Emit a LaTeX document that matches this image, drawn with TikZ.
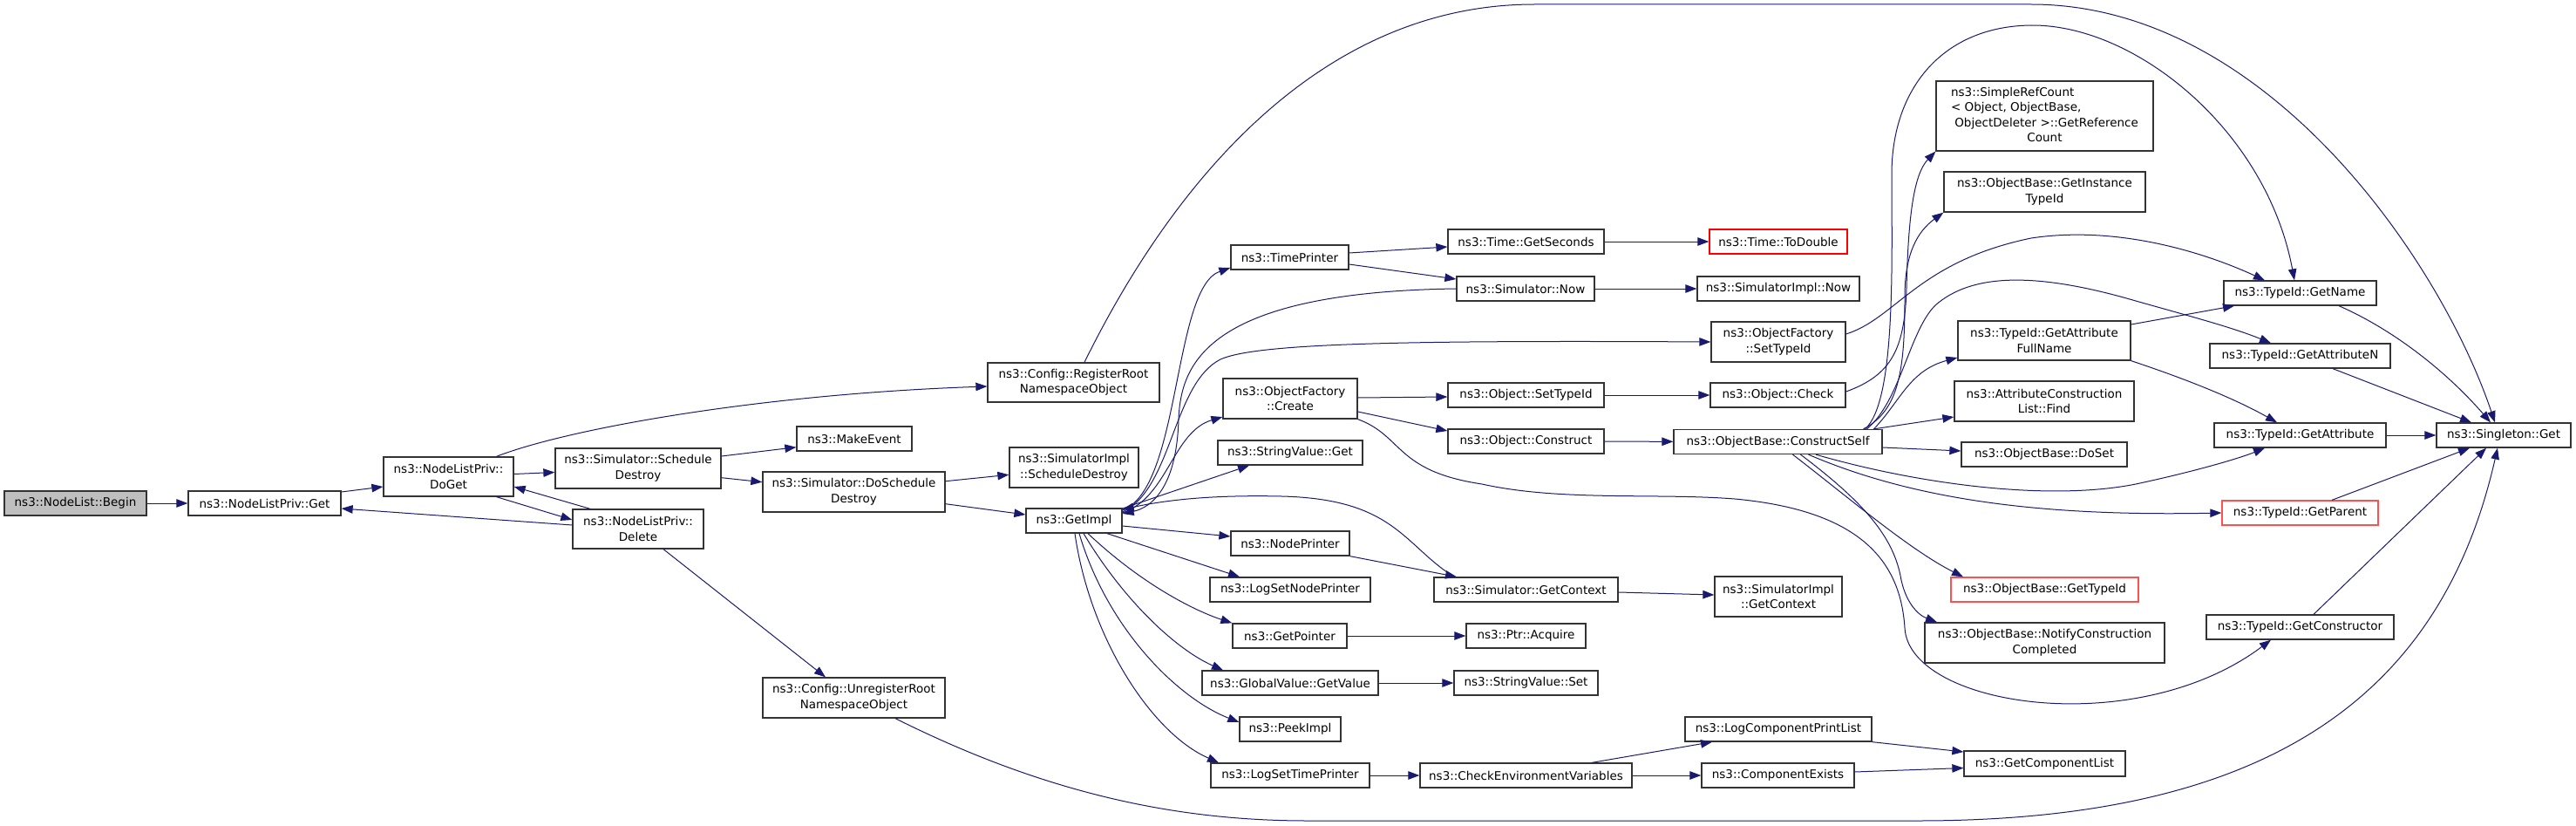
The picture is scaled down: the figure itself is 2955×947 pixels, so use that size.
\documentclass[tikz,border=0pt]{standalone}
\usepackage{fontspec}
\setmainfont{DejaVu Sans}
\usetikzlibrary{arrows.meta}
\definecolor{edgecol}{RGB}{25,25,112}
\definecolor{redbox}{RGB}{255,0,0}
\definecolor{lredbox}{RGB}{255,80,80}
\begin{document}
\begin{tikzpicture}[x=1pt,y=-1pt,
  box/.style={draw=black!80, line width=1.3pt, fill=white, inner sep=0pt, align=center,
    font=\fontsize{13.5}{17.5}\selectfont},
  edge/.style={draw=edgecol, line width=1pt, -{Triangle[length=13pt,width=9.5pt]}}]
\useasboundingbox (0,0) rectangle (2955,947);
% column 1-3
\node[box, minimum width=163pt, minimum height=28pt, fill=black!25] (begin) at (86.5,577) {ns3::NodeList::Begin};
\node[box, minimum width=175pt, minimum height=28pt] (get) at (303.5,577) {ns3::NodeListPriv::Get};
\node[box, minimum width=149pt, minimum height=45pt] (doget) at (514.5,546.5) {ns3::NodeListPriv::\\DoGet};
\node[box, minimum width=190pt, minimum height=46pt] (schedd) at (732,537) {ns3::Simulator::Schedule\\Destroy};
\node[box, minimum width=150pt, minimum height=45pt] (delete) at (732,606.5) {ns3::NodeListPriv::\\Delete};
% column 4
\node[box, minimum width=132pt, minimum height=28pt] (makeevent) at (980,503) {ns3::MakeEvent};
\node[box, minimum width=209pt, minimum height=46pt] (doschedd) at (979.5,564) {ns3::Simulator::DoSchedule\\Destroy};
\node[box, minimum width=209pt, minimum height=46pt] (unreg) at (979.5,800) {ns3::Config::UnregisterRoot\\NamespaceObject};
% column 5
\node[box, minimum width=197pt, minimum height=45pt] (regroot) at (1231.5,438.5) {ns3::Config::RegisterRoot\\NamespaceObject};
\node[box, minimum width=148pt, minimum height=46pt] (implsd) at (1232,536) {ns3::SimulatorImpl\\::ScheduleDestroy};
\node[box, minimum width=110pt, minimum height=28pt] (getimpl) at (1232,597) {ns3::GetImpl};
% column 6
\node[box, minimum width=135pt, minimum height=28pt] (timeprinter) at (1479.5,295) {ns3::TimePrinter};
\node[box, minimum width=154pt, minimum height=46pt] (create) at (1480,457) {ns3::ObjectFactory\\::Create};
\node[box, minimum width=166pt, minimum height=28pt] (strget) at (1480,519) {ns3::StringValue::Get};
\node[box, minimum width=136pt, minimum height=28pt] (nodeprinter) at (1480,623) {ns3::NodePrinter};
\node[box, minimum width=184pt, minimum height=28pt] (lognode) at (1480,676) {ns3::LogSetNodePrinter};
\node[box, minimum width=131pt, minimum height=28pt] (getpointer) at (1479.5,729) {ns3::GetPointer};
\node[box, minimum width=202pt, minimum height=28pt] (globalval) at (1480,783) {ns3::GlobalValue::GetValue};
\node[box, minimum width=116pt, minimum height=28pt] (peekimpl) at (1480,836) {ns3::PeekImpl};
\node[box, minimum width=182pt, minimum height=28pt] (logtime) at (1480,889) {ns3::LogSetTimePrinter};
% column 7
\node[box, minimum width=179pt, minimum height=28pt] (getseconds) at (1750.5,277) {ns3::Time::GetSeconds};
\node[box, minimum width=158pt, minimum height=28pt] (simnow) at (1750,331) {ns3::Simulator::Now};
\node[box, minimum width=179pt, minimum height=28pt] (objsettype) at (1750.5,453) {ns3::Object::SetTypeId};
\node[box, minimum width=179pt, minimum height=28pt] (construct) at (1750.5,506) {ns3::Object::Construct};
\node[box, minimum width=211pt, minimum height=28pt] (getcontext) at (1750.5,676) {ns3::Simulator::GetContext};
\node[box, minimum width=137pt, minimum height=28pt] (acquire) at (1750.5,729) {ns3::Ptr::Acquire};
\node[box, minimum width=165pt, minimum height=28pt] (strset) at (1750.5,783) {ns3::StringValue::Set};
\node[box, minimum width=243pt, minimum height=28pt] (checkenv) at (1750.5,889) {ns3::CheckEnvironmentVariables};
% column 8
\node[box, minimum width=158pt, minimum height=28pt, draw=redbox] (todouble) at (2040,277) {ns3::Time::ToDouble};
\node[box, minimum width=186pt, minimum height=28pt] (implnow) at (2040,331) {ns3::SimulatorImpl::Now};
\node[box, minimum width=154pt, minimum height=46pt] (facsettype) at (2040,392) {ns3::ObjectFactory\\::SetTypeId};
\node[box, minimum width=155pt, minimum height=28pt] (check) at (2039.5,453) {ns3::Object::Check};
\node[box, minimum width=239pt, minimum height=28pt] (constructself) at (2039.5,506.5) {ns3::ObjectBase::ConstructSelf};
\node[box, minimum width=146pt, minimum height=46pt] (implctx) at (2040,684) {ns3::SimulatorImpl\\::GetContext};
\node[box, minimum width=214pt, minimum height=28pt] (logcpl) at (2040,836) {ns3::LogComponentPrintList};
\node[box, minimum width=175pt, minimum height=28pt] (compexists) at (2039.5,889) {ns3::ComponentExists};
% column 9
\node[box, minimum width=249pt, minimum height=80pt] (simpleref) at (2345.5,133) {\begin{tabular}{@{}l@{}}ns3::SimpleRefCount\\< Object, ObjectBase,\\\ ObjectDeleter >::GetReference\\\multicolumn{1}{@{}c@{}}{Count}\end{tabular}};
\node[box, minimum width=231pt, minimum height=46pt] (instancetid) at (2345.5,220) {ns3::ObjectBase::GetInstance\\TypeId};
\node[box, minimum width=198pt, minimum height=45pt] (fullname) at (2345,390.5) {ns3::TypeId::GetAttribute\\FullName};
\node[box, minimum width=206pt, minimum height=46pt] (find) at (2345,460) {ns3::AttributeConstruction\\List::Find};
\node[box, minimum width=190pt, minimum height=28pt] (doset) at (2345,521) {ns3::ObjectBase::DoSet};
\node[box, minimum width=215pt, minimum height=28pt, draw=lredbox] (gettypeid) at (2345.5,676) {ns3::ObjectBase::GetTypeId};
\node[box, minimum width=275pt, minimum height=46pt] (notify) at (2345.5,737) {ns3::ObjectBase::NotifyConstruction\\Completed};
\node[box, minimum width=185pt, minimum height=29pt] (getcomplist) at (2345.5,875.5) {ns3::GetComponentList};
% column 10
\node[box, minimum width=175pt, minimum height=28pt] (getname) at (2638.5,336) {ns3::TypeId::GetName};
\node[box, minimum width=207pt, minimum height=28pt] (getattrn) at (2638.5,408) {ns3::TypeId::GetAttributeN};
\node[box, minimum width=197pt, minimum height=28pt] (getattr) at (2638.5,499) {ns3::TypeId::GetAttribute};
\node[box, minimum width=179pt, minimum height=28pt, draw=lredbox] (getparent) at (2638.5,588) {ns3::TypeId::GetParent};
\node[box, minimum width=215pt, minimum height=28pt] (getctor) at (2638.5,719) {ns3::TypeId::GetConstructor};
% column 11
\node[box, minimum width=154pt, minimum height=28pt] (singleton) at (2872,499) {ns3::Singleton::Get};

% edges
\draw[edge] (begin.east) -- (get.west);
\draw[edge] ([yshift=13pt]get.east) -- ([yshift=-11.5pt]doget.west);
\draw[edge] ([yshift=3pt]doget.east) -- ([yshift=-4.5pt]schedd.west);
\draw[edge] ([xshift=55pt]doget.south) -- ([yshift=10.5pt]delete.west);
\draw[edge] ([xshift=-55pt]delete.north) -- ([yshift=-11.5pt]doget.east);
\draw[edge] ([yshift=4.5pt]delete.west) -- ([yshift=-6pt]get.east);
\draw[edge] ([xshift=55pt]doget.north) .. controls (650,492) and (870,452) .. ([yshift=-4.5pt]regroot.west);
\draw[edge] ([xshift=29pt]delete.south) -- ([xshift=-32.5pt]unreg.north);
\draw[edge] ([yshift=14pt]schedd.east) -- ([yshift=-9.7pt]makeevent.west);
\draw[edge] ([yshift=-10.7pt]schedd.east) -- ([yshift=11.3pt]doschedd.west);
\draw[edge] ([yshift=12.3pt]doschedd.east) -- ([yshift=-8.3pt]implsd.west);
\draw[edge] ([yshift=-13.7pt]doschedd.east) -- ([yshift=7pt]getimpl.west);
\draw[edge] ([xshift=12.5pt]regroot.north) .. controls (1350,200) and (1520,5) .. (1760,5) -- (2330,5) .. controls (2600,5) and (2800,300) .. ([xshift=-10pt]singleton.north);
\draw[edge] ([xshift=47.5pt]unreg.south) .. controls (1200,910) and (1350,941) .. (1500,941) -- (2200,941) .. controls (2600,941) and (2800,800) .. ([xshift=-7pt]singleton.south);
% GetImpl fan
\draw[edge] ([yshift=12pt]getimpl.east) .. controls (1355,560) and (1345,330) .. ([yshift=-12pt]timeprinter.west);
\draw[edge] (simnow.west) .. controls (1380,335) and (1355,420) .. (1352,480) .. controls (1350,560) and (1320,582) .. ([yshift=8pt]getimpl.east);
\draw[edge] ([yshift=10pt]getimpl.east) .. controls (1345,560) and (1345,440) .. (1400,412) .. controls (1440,394) and (1600,390) .. (facsettype.west);
\draw[edge] ([yshift=9pt]getimpl.east) .. controls (1340,570) and (1345,495) .. ([yshift=-21pt]create.west);
\draw[edge] ([yshift=14pt]getimpl.east) -- ([xshift=-47pt]strget.south);
\draw[edge] ([xshift=-82.5pt]getcontext.north) .. controls (1610,625) and (1600,572) .. (1470,569) .. controls (1380,567) and (1330,575) .. ([yshift=13pt]getimpl.east);
\draw[edge] ([yshift=-6pt]getimpl.east) -- ([yshift=8pt]nodeprinter.west);
\draw[edge] ([xshift=38pt]getimpl.south) -- ([xshift=-58pt]lognode.north);
\draw[edge] ([xshift=16pt]getimpl.south) .. controls (1310,670) and (1370,700) .. (getpointer.north west);
\draw[edge] ([xshift=11pt]getimpl.south) .. controls (1290,690) and (1350,745) .. ([xshift=-77pt]globalval.north);
\draw[edge] ([xshift=6pt]getimpl.south) .. controls (1270,720) and (1350,800) .. ([yshift=8pt]peekimpl.west);
\draw[edge] ([xshift=1pt]getimpl.south) .. controls (1250,730) and (1320,840) .. ([xshift=-82pt]logtime.north);
% column 6 -> 7
\draw[edge] ([yshift=5pt]timeprinter.east) -- ([yshift=-6pt]getseconds.west);
\draw[edge] ([yshift=-8pt]timeprinter.east) -- ([yshift=11pt]simnow.west);
\draw[edge] (getseconds) -- (todouble);
\draw[edge] (simnow) -- (implnow);
\draw[edge] ([yshift=1pt]create.east) -- ([yshift=-2pt]objsettype.west);
\draw[edge] ([yshift=-15pt]create.east) -- ([yshift=12pt]construct.west);
\draw[edge] (create.south east) .. controls (1610,500) and (1600,540) .. (1700,555) .. controls (1790,575) and (1900,565) .. (1990,572) .. controls (2130,585) and (2180,640) .. (2185,720) .. controls (2190,810) and (2450,850) .. ([xshift=-33.5pt]getctor.south);
\draw[edge] (objsettype) -- (check);
\draw[edge] (construct) -- (constructself);
\draw[edge] (nodeprinter.south east) -- ([xshift=-79.5pt]getcontext.north);
\draw[edge] ([yshift=-3pt]getcontext.east) -- ([yshift=2pt]implctx.west);
\draw[edge] (getpointer) -- (acquire);
\draw[edge] (globalval) -- (strset);
\draw[edge] (logtime) -- (checkenv);
\draw[edge] ([xshift=75.5pt]checkenv.north) -- ([xshift=-76pt]logcpl.south);
\draw[edge] (checkenv) -- (compexists);
\draw[edge] (logcpl.south east) -- ([yshift=13.5pt]getcomplist.west);
\draw[edge] ([yshift=4pt]compexists.east) -- ([yshift=-5pt]getcomplist.west);
% column 8 -> 9/10
\draw[edge] ([yshift=9pt]facsettype.east) .. controls (2175,365) and (2200,300) .. (2330,273) .. controls (2430,258) and (2530,290) .. ([xshift=-40.5pt]getname.north);
\draw[edge] ([yshift=4pt]check.east) .. controls (2170,430) and (2185,400) .. (2187,330) .. controls (2189,250) and (2195,200) .. (simpleref.south west);
\draw[edge] ([xshift=98pt]constructself.north) .. controls (2180,470) and (2185,420) .. (2185,340) .. controls (2185,290) and (2200,265) .. (instancetid.south west);
\draw[edge] ([xshift=100pt]constructself.north) .. controls (2175,460) and (2170,300) .. (2170,200) .. controls (2170,100) and (2230,30) .. (2330,29) .. controls (2450,28) and (2600,150) .. ([xshift=-6.5pt]getname.north);
\draw[edge] ([xshift=102pt]constructself.north) .. controls (2180,460) and (2190,380) .. (2220,350) .. controls (2260,315) and (2330,310) .. (2450,345) .. controls (2510,362) and (2560,375) .. ([xshift=-33.5pt]getattrn.north);
\draw[edge] ([xshift=110pt]constructself.north) .. controls (2180,460) and (2190,425) .. ([yshift=-19.5pt]fullname.west);
\draw[edge] ([xshift=110pt]constructself.north) -- ([yshift=-18pt]find.west);
\draw[edge] ([yshift=-6.5pt]constructself.east) -- ([yshift=4pt]doset.west);
\draw[edge] ([xshift=43.5pt]constructself.south) .. controls (2200,555) and (2350,575) .. (2450,555) .. controls (2520,540) and (2570,525) .. ([xshift=-40.5pt]getattr.south);
\draw[edge] ([xshift=35pt]constructself.south) .. controls (2200,575) and (2350,592) .. (getparent.west);
\draw[edge] ([xshift=17pt]constructself.south) .. controls (2120,570) and (2190,630) .. ([xshift=-93.5pt]gettypeid.north);
\draw[edge] ([xshift=26pt]constructself.south) .. controls (2130,570) and (2170,610) .. (2180,660) .. controls (2185,690) and (2200,705) .. ([xshift=-123.5pt]notify.north);
\draw[edge] ([yshift=18.5pt]fullname.east) -- ([xshift=-75.5pt]getname.south);
\draw[edge] (fullname.south east) .. controls (2500,432) and (2560,455) .. ([xshift=-26.5pt]getattr.north);
% to singleton
\draw[edge] ([xshift=44.5pt]getname.south) .. controls (2750,380) and (2810,430) .. ([xshift=-15pt]singleton.north);
\draw[edge] ([xshift=37.5pt]getattrn.south) -- ([xshift=-37pt]singleton.north);
\draw[edge] (getattr) -- (singleton);
\draw[edge] ([xshift=36.5pt]getparent.north) -- ([xshift=-39pt]singleton.south);
\draw[edge] ([xshift=15.5pt]getctor.north) -- ([xshift=-20pt]singleton.south);
\end{tikzpicture}
\end{document}
